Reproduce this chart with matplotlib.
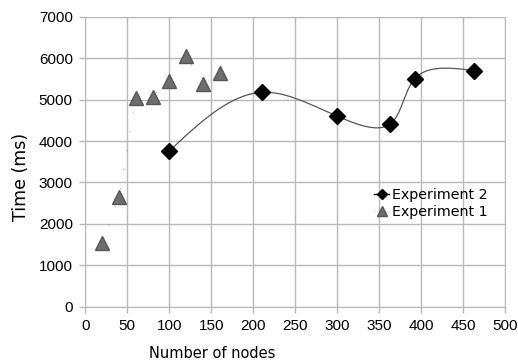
import numpy as np
import matplotlib
matplotlib.use('Agg')
import matplotlib.pyplot as plt

plt.rcParams['font.family'] = ['Liberation Sans', 'DejaVu Sans']

# Experiment 1 (triangles)
exp1_nodes = [20, 40, 60, 80, 100, 120, 140, 160]
exp1_time = [1530, 2640, 5050, 5070, 5450, 6050, 5370, 5640]

# Experiment 2 (diamonds, smoothed line)
exp2_nodes = [100, 210, 300, 363, 392, 463]
exp2_time = [3760, 5175, 4600, 4410, 5500, 5700]


def natural_coef(t, v):
    k = len(t)
    h = np.diff(t)
    A = np.zeros((k, k))
    b = np.zeros(k)
    A[0, 0] = A[-1, -1] = 1
    for i in range(1, k - 1):
        A[i, i - 1] = h[i - 1]
        A[i, i] = 2 * (h[i - 1] + h[i])
        A[i, i + 1] = h[i]
        b[i] = 6 * ((v[i + 1] - v[i]) / h[i] - (v[i] - v[i - 1]) / h[i - 1])
    return np.linalg.solve(A, b)


def eval_spline(t, v, M, ts):
    idx = np.clip(np.searchsorted(t, ts) - 1, 0, len(t) - 2)
    t0, t1 = t[idx], t[idx + 1]
    hh = t1 - t0
    a, c = t1 - ts, ts - t0
    return (M[idx] * a ** 3 + M[idx + 1] * c ** 3) / (6 * hh) \
        + (v[idx] / hh - M[idx] * hh / 6) * a \
        + (v[idx + 1] / hh - M[idx + 1] * hh / 6) * c


def parametric_spline(x, y, sx=0.84, sy=0.0414, n=500):
    # chord-length parameter measured in screen pixels
    x = np.asarray(x, float)
    y = np.asarray(y, float)
    d = np.hypot(np.diff(x) * sx, np.diff(y) * sy)
    t = np.concatenate([[0], np.cumsum(d)])
    ts = np.linspace(0, t[-1], n)
    xs = eval_spline(t, x, natural_coef(t, x), ts)
    ys = eval_spline(t, y, natural_coef(t, y), ts)
    return xs, ys


fig = plt.figure(figsize=(5.18, 3.64), dpi=100)
ax = fig.add_axes([0.1647, 0.1574, 0.8108, 0.7966])

grid_c = '#b8b8b8'
ax.set_xlim(0, 500)
ax.set_ylim(0, 7000)
ax.set_xticks(range(0, 501, 50))
ax.set_yticks(range(0, 7001, 1000))
ax.grid(True, color=grid_c, linewidth=1)
ax.set_axisbelow(True)
for s in ax.spines.values():
    s.set_color(grid_c)
ax.tick_params(colors=grid_c, labelcolor='black', length=4, width=1,
               labelsize=11, pad=5)

sx, sy = parametric_spline(exp2_nodes, exp2_time)
ax.plot(sx, sy, color='#555555', linewidth=0.9, zorder=2)
ax.plot(exp2_nodes, exp2_time, linestyle='none', marker='D', markersize=8,
        color='black', zorder=3)
ax.plot(exp1_nodes, exp1_time, color='#777777', linewidth=0.6,
        linestyle=(0, (1, 22)), zorder=2)
ax.plot(exp1_nodes, exp1_time, linestyle='none', marker='^', markersize=10,
        markerfacecolor='#6e6e6e', markeredgecolor='#555555', zorder=3)

h2 = ax.plot([], [], color='black', marker='D', markersize=5, linewidth=1)[0]
h1 = ax.plot([], [], color='#999999', marker='^', markersize=7, linewidth=0.5,
             linestyle=(0, (1, 3)), markerfacecolor='#6e6e6e',
             markeredgecolor='#555555')[0]
ax.legend([h2, h1], ['Experiment 2', 'Experiment 1'], loc='upper left',
          bbox_to_anchor=(0.673, 0.428), frameon=False,
          prop={'family': 'DejaVu Sans', 'size': 10.3},
          handlelength=1.1, handletextpad=0.2, labelspacing=0.2,
          borderaxespad=0)

ax.set_xlabel('Number of nodes', family='DejaVu Sans', fontsize=10.5)
ax.xaxis.set_label_coords(0.302, -0.136)
ax.set_ylabel('Time (ms)', family='DejaVu Sans', fontsize=12.5)
ax.yaxis.set_label_coords(-0.132, 0.447)

fig.savefig('out.png', dpi=100)
